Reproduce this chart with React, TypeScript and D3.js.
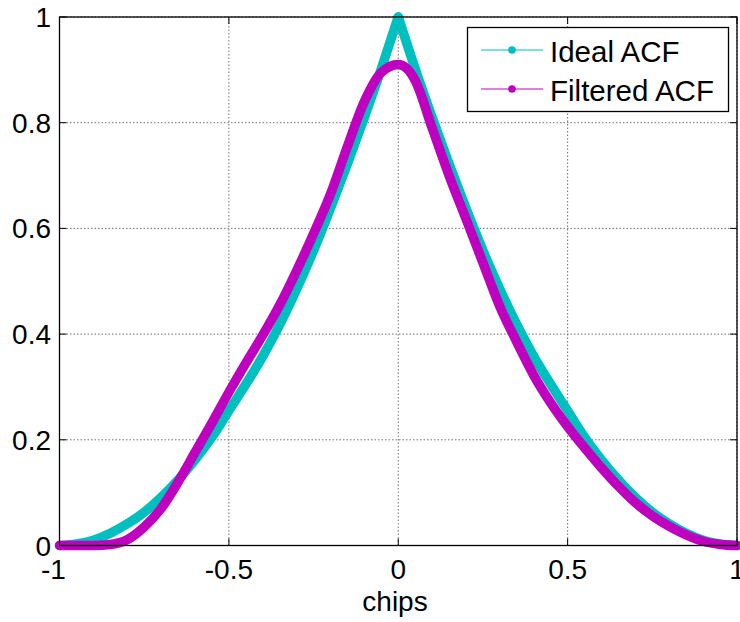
import React from 'react';
import * as d3 from 'd3';

// x positions in chips
const chipsX = [
  -1, -0.95, -0.9, -0.85, -0.8, -0.75, -0.7, -0.65, -0.6, -0.55, -0.5,
  -0.45, -0.4, -0.35, -0.3, -0.25, -0.2, -0.15, -0.1, -0.05, 0,
  0.05, 0.1, 0.15, 0.2, 0.25, 0.3, 0.35, 0.4, 0.45, 0.5,
  0.55, 0.6, 0.65, 0.7, 0.75, 0.8, 0.85, 0.9, 0.95, 1,
];

// Ideal ACF values
const idealACF = [
  0, 0.003, 0.01, 0.023, 0.041, 0.063, 0.091, 0.124, 0.162, 0.205, 0.255,
  0.305, 0.358, 0.418, 0.485, 0.558, 0.638, 0.722, 0.81, 0.902, 1,
  0.902, 0.81, 0.722, 0.638, 0.558, 0.485, 0.418, 0.358, 0.305, 0.255,
  0.205, 0.162, 0.124, 0.091, 0.063, 0.041, 0.023, 0.01, 0.003, 0,
];

// Filtered ACF values
const filteredACF = [
  0, 0, 0, 0.002, 0.011, 0.035, 0.07, 0.12, 0.176, 0.232, 0.29,
  0.345, 0.398, 0.455, 0.52, 0.59, 0.665, 0.755, 0.84, 0.895, 0.91,
  0.88, 0.79, 0.7, 0.618, 0.535, 0.452, 0.385, 0.322, 0.27, 0.225,
  0.185, 0.147, 0.112, 0.081, 0.056, 0.036, 0.02, 0.008, 0.002, 0,
];

const xTicks = [-1, -0.5, 0, 0.5, 1];
const yTicks = [0, 0.2, 0.4, 0.6, 0.8, 1];
const seriesNames = ['Ideal ACF', 'Filtered ACF'];
const seriesColors = ['#00BFBF', '#BF00BF'];
const xLabel = 'chips';

const W = 740;
const H = 622;
const FONT = 'Liberation Sans, Arial, sans-serif';

export default function App() {
  const x = d3.scaleLinear().domain([-1, 1]).range([59.5, 737]);
  const y = d3.scaleLinear().domain([0, 1]).range([545.5, 17]);

  const [x0, x1] = x.range();
  const [yB, yT] = y.range();

  const line = d3
    .line<[number, number]>()
    .x((d) => x(d[0]))
    .y((d) => y(d[1]))
    .curve(d3.curveMonotoneX);

  const idealPts: [number, number][] = chipsX.map((c, i) => [c, idealACF[i]]);
  const filtPts: [number, number][] = chipsX.map((c, i) => [c, filteredACF[i]]);
  const idealLeft = idealPts.filter((p) => p[0] <= 0);
  const idealRight = idealPts.filter((p) => p[0] >= 0);

  const tickLen = 7;
  const gridStyle = { stroke: '#707070', strokeWidth: 1, strokeDasharray: '1.5,2' };

  const lw = 9.5;

  return (
    <svg
      width={W}
      height={H}
      style={{ position: 'absolute', left: 0, top: 0, background: '#fff' }}
      fontFamily={FONT}
    >
      <rect x={0} y={0} width={W} height={H} fill="#fff" />
      {/* grid */}
      {xTicks.map((t) => (
        <line key={'gx' + t} x1={x(t)} x2={x(t)} y1={yB} y2={yT} {...gridStyle} />
      ))}
      {yTicks.map((t) => (
        <line key={'gy' + t} x1={x0} x2={x1} y1={y(t)} y2={y(t)} {...gridStyle} />
      ))}
      {/* ticks */}
      {xTicks.map((t) => (
        <g key={'tx' + t} stroke="#000" strokeWidth={1}>
          <line x1={x(t)} x2={x(t)} y1={yB} y2={yB - tickLen} />
          <line x1={x(t)} x2={x(t)} y1={yT} y2={yT + tickLen} />
        </g>
      ))}
      {yTicks.map((t) => (
        <g key={'ty' + t} stroke="#000" strokeWidth={1}>
          <line x1={x0} x2={x0 + tickLen} y1={y(t)} y2={y(t)} />
          <line x1={x1} x2={x1 - tickLen} y1={y(t)} y2={y(t)} />
        </g>
      ))}
      {/* curves */}
      <g fill="none" strokeLinecap="round" strokeLinejoin="round">
        <path d={line(idealLeft) || ''} stroke={seriesColors[0]} strokeWidth={lw} />
        <path d={line(idealRight) || ''} stroke={seriesColors[0]} strokeWidth={lw} />
        <path d={line(filtPts) || ''} stroke={seriesColors[1]} strokeWidth={lw} />
      </g>
      {/* axes box */}
      <rect
        x={x0}
        y={yT}
        width={x1 - x0}
        height={yB - yT}
        fill="none"
        stroke="#000"
        strokeWidth={1.3}
      />
      {/* tick labels */}
      {xTicks.map((t) => (
        <text
          key={'lx' + t}
          x={x(t) + (t === -1 ? -6 : 0)}
          y={579}
          fontSize={28}
          textAnchor="middle"
          fill="#000"
        >
          {String(t)}
        </text>
      ))}
      {yTicks.map((t) => (
        <text
          key={'ly' + t}
          x={51}
          y={y(t) + 10}
          fontSize={28}
          textAnchor="end"
          fill="#000"
        >
          {String(t)}
        </text>
      ))}
      <text x={395} y={611} fontSize={28} textAnchor="middle" fill="#000">
        {xLabel}
      </text>
      {/* legend */}
      <rect x={467.5} y={27.5} width={261} height={84} fill="#fff" stroke="#000" strokeWidth={1.3} />
      {seriesNames.map((name, i) => {
        const ly = 50 + i * 39;
        return (
          <g key={name}>
            <line x1={481} x2={543} y1={ly} y2={ly} stroke={seriesColors[i]} strokeWidth={1} />
            <circle cx={512} cy={ly} r={3.8} fill={seriesColors[i]} />
            <text x={550} y={ly + 12} fontSize={29.5} fill="#000">
              {name}
            </text>
          </g>
        );
      })}
    </svg>
  );
}
